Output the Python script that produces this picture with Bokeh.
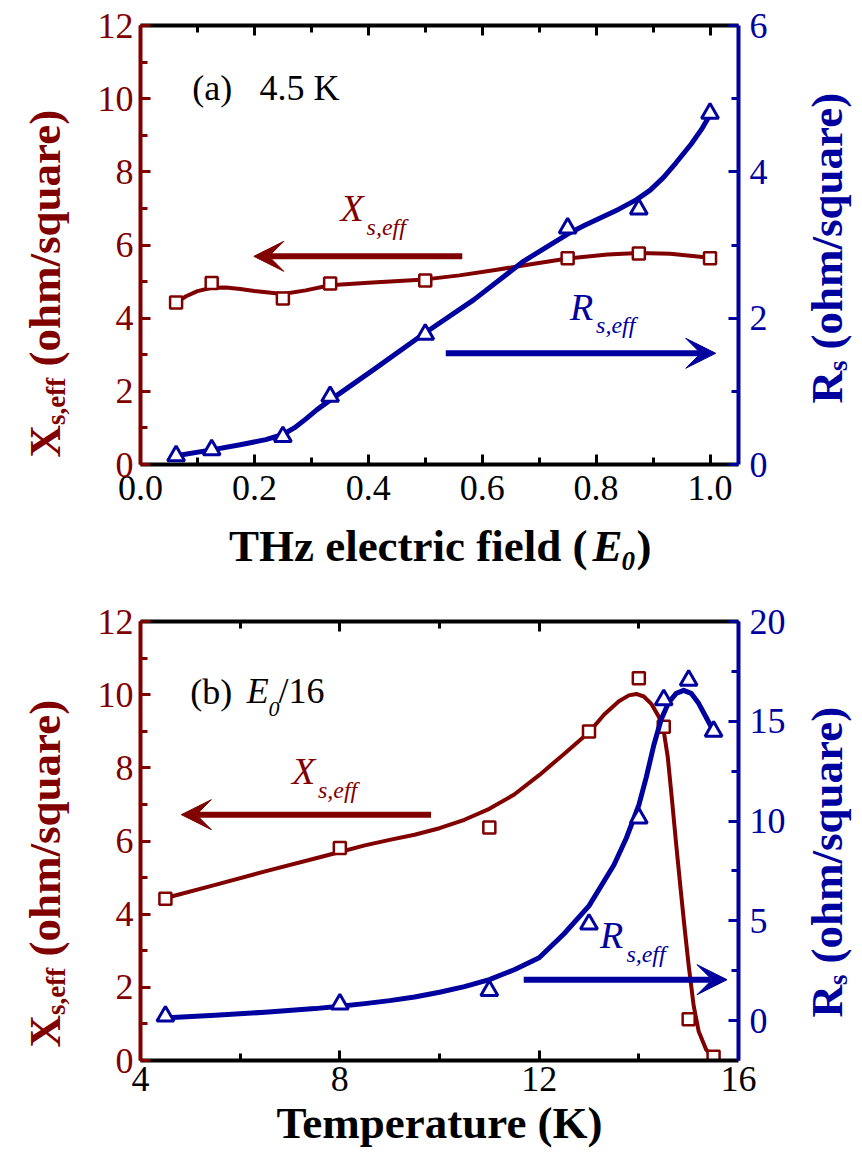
import math
from bokeh.plotting import figure
from bokeh.models import (LinearAxis, Range1d, FixedTicker, Label, Arrow, VeeHead,
                          NumeralTickFormatter)
from bokeh.layouts import column, row
from bokeh.embed import file_html
from bokeh.resources import INLINE

# ---------------- data : panel (a)  4.5 K ----------------
field = [0.0625, 0.125, 0.25, 0.333, 0.5, 0.75, 0.875, 1.0]
xs_field = [4.43, 4.96, 4.54, 4.95, 5.03, 5.64, 5.77, 5.64]
rs_field = [0.12, 0.20, 0.38, 0.93, 1.78, 3.23, 3.49, 4.80]

fit_field_x = [0.0625, 0.08, 0.10, 0.125, 0.15, 0.175, 0.20, 0.25, 0.29, 0.333,
               0.40, 0.50, 0.56, 0.62, 0.68, 0.75, 0.82, 0.875, 0.93, 1.0]
fit_xs_field = [4.43, 4.60, 4.74, 4.83, 4.84, 4.80, 4.74, 4.66, 4.76, 4.90,
                4.97, 5.06, 5.17, 5.31, 5.46, 5.63, 5.74, 5.78, 5.76, 5.65]
fit_field_r = [0.0625, 0.125, 0.175, 0.22, 0.25, 0.27, 0.29, 0.31, 0.333, 0.41,
               0.50, 0.585, 0.673, 0.75, 0.78, 0.81, 0.84, 0.871, 0.895, 0.918,
               0.94, 0.967, 0.985, 1.0]
fit_rs_field = [0.12, 0.20, 0.27, 0.34, 0.41, 0.50, 0.62, 0.75, 0.88, 1.30,
                1.80, 2.25, 2.78, 3.15, 3.27, 3.38, 3.49, 3.62, 3.75, 3.92,
                4.12, 4.38, 4.58, 4.78]

# ---------------- data : panel (b)  E0/16 ----------------
temperature = [4.5, 8.0, 11.0, 13.0, 14.0, 14.5, 15.0, 15.5]
xs_temp = [4.42, 5.81, 6.37, 8.99, 10.45, 9.12, 1.13, 0.10]
rs_temp = [0.22, 0.83, 1.50, 4.83, 10.15, 16.07, 17.05, 14.50]

fit_temp_x = [4.45, 5.5, 6.5, 7.5, 8.0, 8.5, 9.0, 9.5, 10.0, 10.5, 11.0, 11.5,
              12.0, 12.5, 13.0, 13.3, 13.6, 13.8, 13.95, 14.1, 14.25, 14.4, 14.5,
              14.58, 14.66, 14.75, 14.83, 14.92, 15.0, 15.1, 15.2, 15.35, 15.5]
fit_xs_temp = [4.42, 4.80, 5.17, 5.52, 5.70, 5.88, 6.03, 6.17, 6.35, 6.58, 6.88, 7.27,
               7.80, 8.38, 8.97, 9.45, 9.82, 9.98, 10.02, 9.95, 9.75, 9.40, 9.00,
               8.30, 7.20, 5.90, 4.80, 3.60, 2.60, 1.50, 0.80, 0.30, 0.05]
fit_temp_r = [4.45, 5.5, 6.5, 7.5, 8.0, 8.5, 9.0, 9.5, 10.0, 10.5, 11.0, 11.5,
              12.0, 12.5, 13.0, 13.5, 13.75, 14.0, 14.15, 14.3, 14.45, 14.6,
              14.75, 14.9, 15.05, 15.2, 15.35, 15.5]
fit_rs_temp = [0.13, 0.27, 0.42, 0.60, 0.72, 0.85, 1.00, 1.18, 1.42, 1.70, 2.05, 2.55,
               3.15, 4.35, 5.75, 7.80, 9.15, 10.80, 12.20, 13.80, 15.10, 15.95,
               16.40, 16.55, 16.40, 15.90, 15.20, 14.50]

# ---------------- ticks ----------------
field_ticks = [0.0, 0.2, 0.4, 0.6, 0.8, 1.0]
field_minor = [0.1, 0.3, 0.5, 0.7, 0.9]
temp_ticks = [4, 8, 12, 16]
temp_minor = [6, 10, 14]
xs_ticks = [0, 2, 4, 6, 8, 10, 12]
xs_minor = [1, 3, 5, 7, 9, 11]
rs_ticks_a = [0, 2, 4, 6]
rs_minor_a = [1, 3, 5]
rs_ticks_b = [0, 5, 10, 15, 20]
rs_minor_b = [2.5, 7.5, 12.5, 17.5]

# arrows: (x_tail, x_tip, y)
arrow_xs_a = [0.565, 0.199, 5.69]
arrow_rs_a = [0.536, 1.01, 1.52]
arrow_xs_b = [9.83, 4.82, 6.72]
arrow_rs_b = [11.69, 15.77, 2.05]

RED = "#800000"
BLUE = "#00009e"
FONT = "Liberation Serif"
TICK_PX = "36px"
TITLE_PX = 45
SUB_PX = 27
MID = 0.3375        # baseline-to-middle distance of the font, in em
PPU = 439.0 / 12.0  # screen px per unit of the left axes


def style_axis(ax, color, ticks, minor, standoff, show=True):
    ax.ticker = FixedTicker(ticks=ticks, minor_ticks=minor)
    ax.axis_line_color = color
    ax.axis_line_width = 4
    ax.major_tick_line_color = color
    ax.minor_tick_line_color = color
    ax.major_tick_line_width = 3
    ax.minor_tick_line_width = 3
    ax.major_tick_in = 10
    ax.major_tick_out = 0
    ax.minor_tick_in = 7
    ax.minor_tick_out = 0
    ax.major_label_standoff = standoff
    ax.major_label_text_font = FONT
    ax.major_label_text_color = color
    if show:
        ax.major_label_text_font_size = TICK_PX
    else:
        ax.major_label_overrides = {t: "" for t in ticks}
        ax.major_label_text_font_size = "0px"
        ax.major_label_text_color = None
        ax.major_label_standoff = 0


def make_panel(height, btop, bbottom, xr, yl, yr, xt, xm, rt, rm, xstand, fmt=None):
    p = figure(width=718, height=height, output_backend="svg", toolbar_location=None,
               x_range=Range1d(*xr), y_range=Range1d(*yl),
               x_axis_location=None, y_axis_location=None,
               min_border_left=60, min_border_right=60,
               min_border_top=btop, min_border_bottom=bbottom)
    p.frame_align = False
    p.extra_y_ranges = {"right": Range1d(*yr)}
    p.outline_line_color = None
    p.xgrid.visible = False
    p.ygrid.visible = False
    p.background_fill_color = "white"
    p.border_fill_color = "white"

    bottom = LinearAxis()
    style_axis(bottom, "black", xt, xm, xstand)
    if fmt is not None:
        bottom.formatter = NumeralTickFormatter(format=fmt)
    p.add_layout(bottom, "below")
    top = LinearAxis()
    style_axis(top, "black", xt, xm, 0, show=False)
    p.add_layout(top, "above")
    left = LinearAxis()
    style_axis(left, RED, xs_ticks, xs_minor, 7)
    p.add_layout(left, "left")
    right = LinearAxis(y_range_name="right")
    style_axis(right, BLUE, rt, rm, 11)
    p.add_layout(right, "right")
    return p, bottom


def blank(width, height):
    f = figure(width=width, height=height, output_backend="svg", toolbar_location=None,
               x_range=Range1d(0, width), y_range=Range1d(0, height),
               x_axis_location=None, y_axis_location=None, min_border=0)
    f.frame_align = False
    f.outline_line_color = None
    f.xgrid.visible = False
    f.ygrid.visible = False
    f.background_fill_color = "white"
    f.border_fill_color = "white"
    return f


def lab(p, text, x, y, size, color="black", style="normal", angle=0.0, align="left",
        ppu=None):
    """y is the text baseline; the label is anchored at its middle."""
    if ppu is not None:
        y = y + MID * size / ppu
    p.add_layout(Label(x=x, y=y, text=text,
                       text_font=FONT, text_font_size=f"{size}px",
                       text_font_style=style, text_color=color, angle=angle,
                       text_align=align, text_baseline="middle"))


def arrow(p, spec, color, y_range_name="default"):
    p.add_layout(Arrow(end=VeeHead(size=30, fill_color=color, line_color=color, line_width=1),
                       x_start=spec[0], y_start=spec[2], x_end=spec[1], y_end=spec[2],
                       line_color=color, line_width=6, y_range_name=y_range_name))


def left_title(height, y0):
    f = blank(80, height)
    up = math.pi / 2
    lab(f, "X", 44, y0, TITLE_PX, RED, "bold", up)
    lab(f, "s,eff", 55, y0 + 32.5, SUB_PX, RED, "bold", up)
    lab(f, "(ohm/square)", 44, y0 + 91, TITLE_PX, RED, "bold", up)
    return f


def right_title(height, y0):
    f = blank(64, height)
    up = math.pi / 2
    lab(f, "R", 28, y0, TITLE_PX, BLUE, "bold", up)
    lab(f, "s", 39, y0 + 32.5, SUB_PX, BLUE, "bold", up)
    lab(f, "(ohm/square)", 28, y0 + 54, TITLE_PX, BLUE, "bold", up)
    return f


# ---------------- panel (a) ----------------
H1 = 514
p1, _ = make_panel(H1, 25, 50, (0, 1.05), (0, 12), (0, 6),
                   field_ticks, field_minor, rs_ticks_a, rs_minor_a, 11, fmt="0.0")
p1.line(fit_field_x, fit_xs_field, line_color=RED, line_width=4, line_join="round")
p1.scatter(field, xs_field, marker="square", size=12, line_color=RED,
           fill_color="white", line_width=2.5)
p1.line(fit_field_r, fit_rs_field, line_color=BLUE, line_width=5, line_join="round",
        y_range_name="right")
p1.scatter(field, rs_field, marker="triangle", size=17, line_color=BLUE,
           fill_color="white", line_width=3, y_range_name="right")
arrow(p1, arrow_xs_a, RED)
arrow(p1, arrow_rs_a, BLUE, "right")
lab(p1, "(a)", 0.0908, 9.96, 36, ppu=PPU)
lab(p1, "4.5 K", 0.209, 9.96, 36, ppu=PPU)
lab(p1, "X", 0.351, 6.65, 38, RED, "italic", ppu=PPU)
lab(p1, "s,eff", 0.397, 6.28, 24, RED, "italic", ppu=PPU)
lab(p1, "R", 0.754, 3.95, 38, BLUE, "italic", ppu=PPU)
lab(p1, "s,eff", 0.800, 3.58, 24, BLUE, "italic", ppu=PPU)

l1 = left_title(H1, 57)
r1 = right_title(H1, 111)

# x title of panel (a)
x1 = blank(862, 80)
lab(x1, "THz electric field (", 587, 33, TITLE_PX, "black", "bold", align="right", ppu=1.0)
lab(x1, "E", 592, 33, TITLE_PX, "black", "bold italic", ppu=1.0)
lab(x1, "0", 621, 24, SUB_PX, "black", "bold italic", ppu=1.0)
lab(x1, ")", 636, 33, TITLE_PX, "black", "bold", ppu=1.0)

# ---------------- panel (b) ----------------
H2 = 563
p2, ax2 = make_panel(H2, 27, 97, (4, 16), (0, 12), (-2, 20),
                     temp_ticks, temp_minor, rs_ticks_b, rs_minor_b, 6)
ax2.axis_label = "Temperature (K)"
ax2.axis_label_text_font = FONT
ax2.axis_label_text_font_size = f"{TITLE_PX}px"
ax2.axis_label_text_font_style = "bold"
ax2.axis_label_text_color = "black"
ax2.axis_label_standoff = 4
p2.line(fit_temp_x, fit_xs_temp, line_color=RED, line_width=4, line_join="round")
p2.scatter(temperature, xs_temp, marker="square", size=12, line_color=RED,
           fill_color="white", line_width=2.5)
p2.line(fit_temp_r, fit_rs_temp, line_color=BLUE, line_width=5, line_join="round",
        y_range_name="right")
p2.scatter(temperature, rs_temp, marker="triangle", size=17, line_color=BLUE,
           fill_color="white", line_width=3, y_range_name="right")
arrow(p2, arrow_xs_b, RED)
arrow(p2, arrow_rs_b, BLUE, "right")
lab(p2, "(b)", 5.0, 9.75, 36, ppu=PPU)
lab(p2, "E", 6.13, 9.77, 36, "black", "italic", ppu=PPU)
lab(p2, "0", 6.57, 9.40, 22, "black", "italic", ppu=PPU)
lab(p2, "/16", 6.77, 9.77, 36, ppu=PPU)
lab(p2, "X", 7.04, 7.56, 38, RED, "italic", ppu=PPU)
lab(p2, "s,eff", 7.56, 7.16, 24, RED, "italic", ppu=PPU)
lab(p2, "R", 13.22, 3.07, 38, BLUE, "italic", ppu=PPU)
lab(p2, "s,eff", 13.75, 2.68, 24, BLUE, "italic", ppu=PPU)

l2 = left_title(H2, 110)
r2 = right_title(H2, 140)

layout = column(row(l1, p1, r1), x1, row(l2, p2, r2))
open("out.html", "w").write(file_html(layout, INLINE))
